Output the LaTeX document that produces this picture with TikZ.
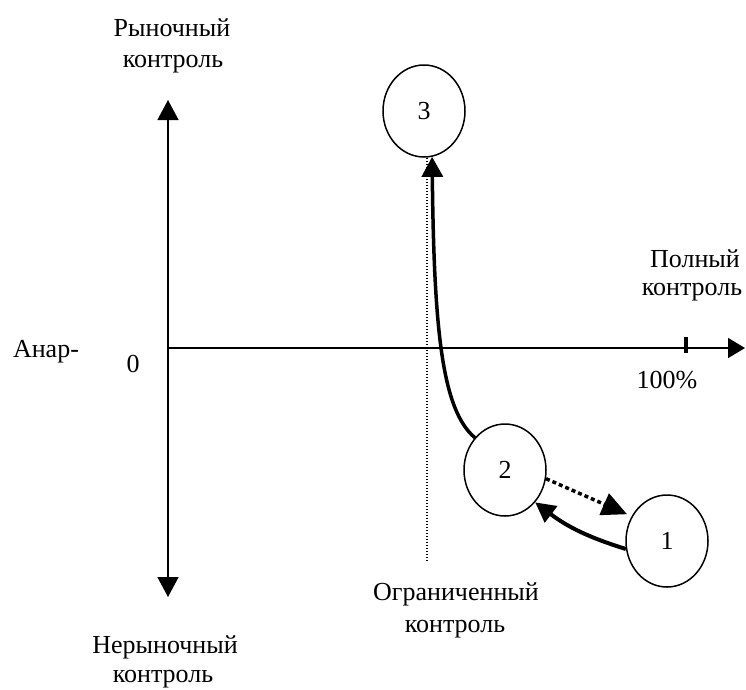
\documentclass[tikz,border=0pt]{standalone}
\usepackage{fontspec}
\setmainfont{Liberation Serif}
\usetikzlibrary{arrows.meta,shapes.geometric}
\begin{document}
\begin{tikzpicture}[x=1pt,y=-1pt,
  lbl/.style={anchor=base,inner sep=0pt,font=\fontsize{26}{31}\selectfont},
  state/.style={draw,ellipse,line width=1.5pt,minimum width=82pt,minimum height=92pt,inner sep=0pt,font=\fontsize{26}{31}\selectfont},
  axis/.style={line width=1.5pt},
  bigtip/.style={-{Triangle[width=21pt,length=20pt]}},
  guide/.style={line width=1.3pt,dash pattern=on 1.5pt off 1.5pt},
  flow/.style={line width=3.5pt},
  dotflow/.style={line width=3.5pt,dash pattern=on 4pt off 3pt}
]
\useasboundingbox (0,0) rectangle (746,689);

% axes
\coordinate (vt) at (168,100);
\coordinate (vb) at (168,597);
\coordinate (O) at (168,348);
\coordinate (hr) at (745,348);
\draw[axis,{Triangle[width=21pt,length=20pt]}-{Triangle[width=21pt,length=20pt]}] (vb) -- (vt);
\draw[axis,-{Triangle[width=20pt,length=17pt]}] (O) -- (hr);
\node[fill=black,minimum width=4pt,minimum height=16pt,inner sep=0pt] (tick) at (686,345) {};

% labels
\node[lbl] (rk1) at (172,36) {Рыночный};
\node[lbl] (rk2) at (173,67) {контроль};
\node[lbl] (nk1) at (165,653) {Нерыночный};
\node[lbl] (nk2) at (163,682) {контроль};
\node[lbl] (ok1) at (456,600) {Ограниченный};
\node[lbl] (ok2) at (455,632) {контроль};
\node[lbl] (pk1) at (695,267) {Полный};
\node[lbl] (pk2) at (692,295) {контроль};
\node[lbl] (pct) at (667,388) {100\%};
\node[lbl] (an) at (46,357) {Анар-};
\node[lbl] (zero) at (133,372) {0};

% states
\node[state] (c3) at (424,111) {3};
\node[state] (c2) at (505,470) {2};
\node[state] (c1) at (667,541) {1};

% guide line
\coordinate (gb) at (427,562);
\draw[guide] (c3.south -| gb) -- (gb);

% connectors
\draw[flow,bigtip] (c2.133) .. controls (442,410) and (434,330) .. (c3.-80);
\draw[dotflow,-{Triangle[width=23pt,length=25pt]},shorten >=5pt] (c2.-12) -- (c1.145);
\draw[flow,line width=4pt,-{Triangle[width=20pt,length=20pt]}] (c1.191) to[bend left=10] (c2.-47);
\end{tikzpicture}
\end{document}
